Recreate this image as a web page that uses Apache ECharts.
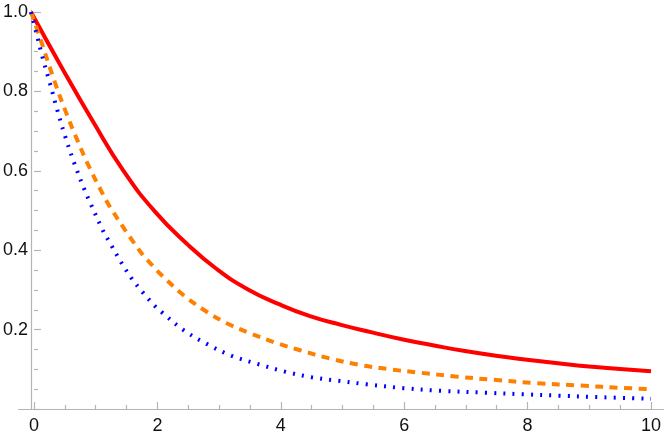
<!DOCTYPE html>
<html>
<head>
<meta charset="utf-8">
<script src="https://cdn.jsdelivr.net/npm/echarts@6/dist/echarts.min.js"></script>
<style>html,body{margin:0;padding:0;background:#fff;}#c{width:664px;height:436px;}</style>
</head>
<body>
<div id="c"></div>
<script>
// Values: [t, value]
const redSeries = [[0,1.0],[0.5,0.859],[1.0,0.724],[1.5,0.598],[2.0,0.497],[2.5,0.418],[3.0,0.352],[3.5,0.301],[4.0,0.264],[4.5,0.234],[5.0,0.212],[5.5,0.193],[6.0,0.175],[6.5,0.160],[7.0,0.146],[7.5,0.134],[8.0,0.124],[8.5,0.115],[9.0,0.107],[9.5,0.101],[10,0.095]];
const orangeSeries = [[0,1.0],[0.145,0.935],[0.387,0.822],[0.56,0.749],[0.737,0.681],[0.925,0.614],[1.14,0.547],[1.247,0.516],[1.516,0.451],[1.65,0.421],[1.795,0.390],[1.956,0.362],[2.108,0.337],[2.457,0.287],[2.834,0.245],[3.156,0.216],[3.532,0.191],[3.963,0.166],[4.339,0.148],[4.823,0.127],[5.306,0.111],[5.79,0.100],[6.274,0.0915],[6.839,0.082],[7.457,0.0735],[8.156,0.065],[8.855,0.059],[9.553,0.053],[10,0.050]];
const blueSeries = [[0,1.0],[0.08,0.951],[0.182,0.888],[0.306,0.820],[0.424,0.753],[0.548,0.688],[0.694,0.621],[0.85,0.557],[0.968,0.515],[1.156,0.451],[1.30,0.411],[1.452,0.370],[1.613,0.331],[1.795,0.295],[2.0,0.259],[2.108,0.244],[2.457,0.199],[2.834,0.164],[3.237,0.134],[3.666,0.113],[4.097,0.094],[4.527,0.080],[4.956,0.071],[5.414,0.0622],[6.005,0.0525],[6.597,0.046],[7.35,0.041],[7.94,0.037],[8.53,0.0335],[9.12,0.030],[10,0.026]];
const xTickValues = [0, 2, 4, 6, 8, 10];
const yTickValues = [0.2, 0.4, 0.6, 0.8, 1.0];

const axisGray = '#b4b4b4';
const labelFont = {fontFamily: 'Liberation Sans, Arial, sans-serif', fontSize: 18, color: '#111'};

const chart = echarts.init(document.getElementById('c'), null, {renderer: 'canvas'});
chart.setOption({
  animation: false,
  grid: [
    {left: 18.6, right: 0.6, top: 10, bottom: 27},
    {left: 31, right: 13, top: 12, bottom: 27}
  ],
  xAxis: [
    {gridIndex: 0, type: 'value', min: -0.2, max: 10.2,
     axisLine: {show: true, onZero: true, lineStyle: {color: axisGray, width: 1.2}},
     axisTick: {show: false}, axisLabel: {show: false}, splitLine: {show: false}},
    {gridIndex: 1, type: 'value', min: 0, max: 10, interval: 2,
     axisLine: {show: false},
     axisTick: {show: true, inside: true, length: 7, lineStyle: {color: axisGray, width: 1.2}},
     minorTick: {show: true, splitNumber: 4, length: 4, lineStyle: {color: axisGray, width: 1.2}},
     axisLabel: Object.assign({margin: 8, formatter: v => xTickValues.includes(v) ? String(v) : ''}, labelFont),
     splitLine: {show: false}}
  ],
  yAxis: [
    {gridIndex: 0, type: 'value', min: 0, max: 1.005,
     axisLine: {show: true, onZero: true, lineStyle: {color: axisGray, width: 1.2}},
     axisTick: {show: false}, axisLabel: {show: false}, splitLine: {show: false}},
    {gridIndex: 1, type: 'value', min: 0, max: 1, interval: 0.2,
     axisLine: {show: false},
     axisTick: {show: true, inside: true, length: 7, lineStyle: {color: axisGray, width: 1.2}},
     minorTick: {show: true, splitNumber: 4, length: 4, lineStyle: {color: axisGray, width: 1.2}},
     axisLabel: Object.assign({margin: 6, formatter: v => {
        const hit = yTickValues.find(t => Math.abs(t - v) < 1e-9);
        return hit !== undefined ? hit.toFixed(1) : '';
     }}, labelFont),
     splitLine: {show: false}}
  ],
  series: [
    {type: 'line', xAxisIndex: 0, yAxisIndex: 0, data: redSeries, showSymbol: false, symbol: 'none',
     smooth: 0.5, lineStyle: {color: '#ff0000', width: 4}},
    {type: 'line', xAxisIndex: 0, yAxisIndex: 0, data: orangeSeries, showSymbol: false, symbol: 'none',
     smooth: 0.35, lineStyle: {color: '#ff8000', width: 4, type: [8, 6.5], cap: 'butt'}},
    {type: 'line', xAxisIndex: 0, yAxisIndex: 0, data: blueSeries, showSymbol: false, symbol: 'none',
     smooth: 0.35, lineStyle: {color: '#0000ff', width: 4, type: [2, 7.2], cap: 'butt'}}
  ]
});
</script>
</body>
</html>
